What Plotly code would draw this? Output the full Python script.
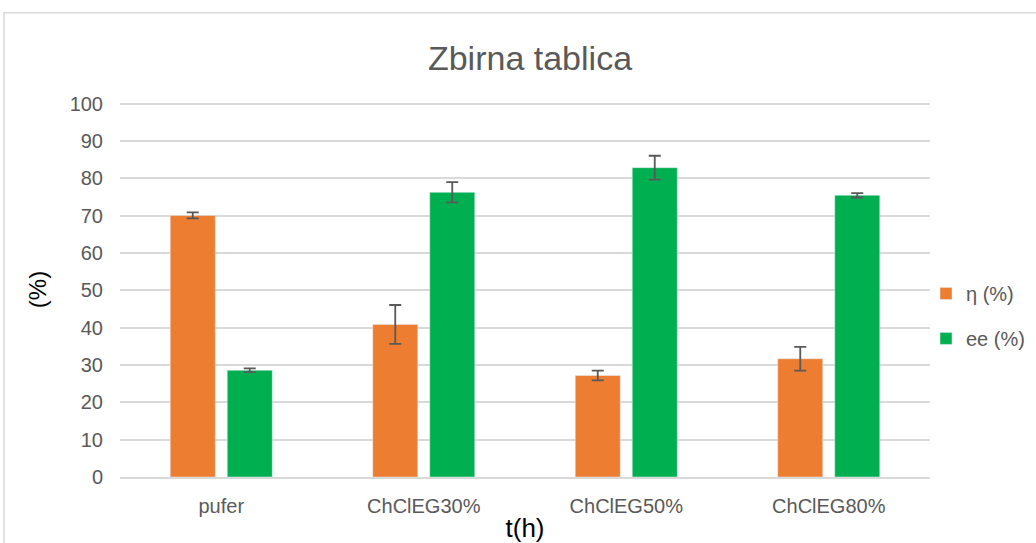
import plotly.graph_objects as go

categories = ["pufer", "ChClEG30%", "ChClEG50%", "ChClEG80%"]
eta_values = [70.1, 40.9, 27.2, 31.7]
eta_errors = [0.8, 5.2, 1.3, 3.2]
ee_values = [28.6, 76.3, 82.9, 75.5]
ee_errors = [0.5, 2.7, 3.2, 0.6]
y_ticks = list(range(0, 101, 10))

gray_text = "#595959"
grid = "#d9d9d9"
Y_TOP = 100.5
plot_h = 373 * Y_TOP / 100

fig = go.Figure()
fig.add_trace(go.Bar(
    x=categories, y=eta_values, name="η (%)", marker_color="#ED7D31",
    legendgroup="a",
    error_y=dict(type="data", array=eta_errors, visible=True, color="#595959", thickness=1.8, width=6),
))
fig.add_trace(go.Bar(
    x=categories, y=ee_values, name="ee (%)", marker_color="#00B050",
    legendgroup="b",
    error_y=dict(type="data", array=ee_errors, visible=True, color="#595959", thickness=1.8, width=6),
))

fig.update_layout(
    width=1036, height=543,
    margin=dict(l=120, r=106, t=543 - 66 - plot_h, b=66, autoexpand=False),
    paper_bgcolor="white", plot_bgcolor="white",
    font=dict(family="Liberation Sans, Arial, sans-serif", color=gray_text, size=20),
    barmode="group", bargap=0.437, bargroupgap=0.21,
    title=dict(text="Zbirna tablica", x=530 / 1036, xanchor="center", y=1 - 58 / 543, yanchor="middle",
               yref="container", font=dict(size=34, color=gray_text)),
    legend=dict(x=(926 - 120) / 810, y=(477 - 316) / plot_h, xanchor="left", yanchor="middle",
                font=dict(size=20, color=gray_text),
                traceorder="grouped", tracegroupgap=16, bgcolor="rgba(0,0,0,0)"),
    showlegend=True,
)
fig.update_yaxes(range=[0, Y_TOP], tickvals=y_ticks, showgrid=True, gridcolor=grid, gridwidth=1.5,
                 zeroline=False, showline=False, ticks="", ticklabelstandoff=16, automargin=False,
                 title=dict(text="(%)", font=dict(size=24, color="black"), standoff=16))
fig.update_xaxes(showgrid=False, showline=True, linecolor=grid, linewidth=1.5, ticks="",
                 ticklabelstandoff=10, automargin=False,
                 title=dict(text="t(h)", font=dict(size=26, color="black"), standoff=4))

fig.add_shape(type="rect", xref="paper", yref="paper",
              x0=(4 - 120) / 810, x1=1.3, y0=-0.4, y1=(477 - 13) / plot_h,
              line=dict(color=grid, width=1.5), fillcolor="rgba(0,0,0,0)", layer="below")

fig.write_html("out.html", config={"displayModeBar": False})

with open("out.html", encoding="utf-8") as f:
    html = f.read()
html = html.replace("<body>", '<body style="margin:0;overflow:hidden">', 1)
with open("out.html", "w", encoding="utf-8") as f:
    f.write(html)
